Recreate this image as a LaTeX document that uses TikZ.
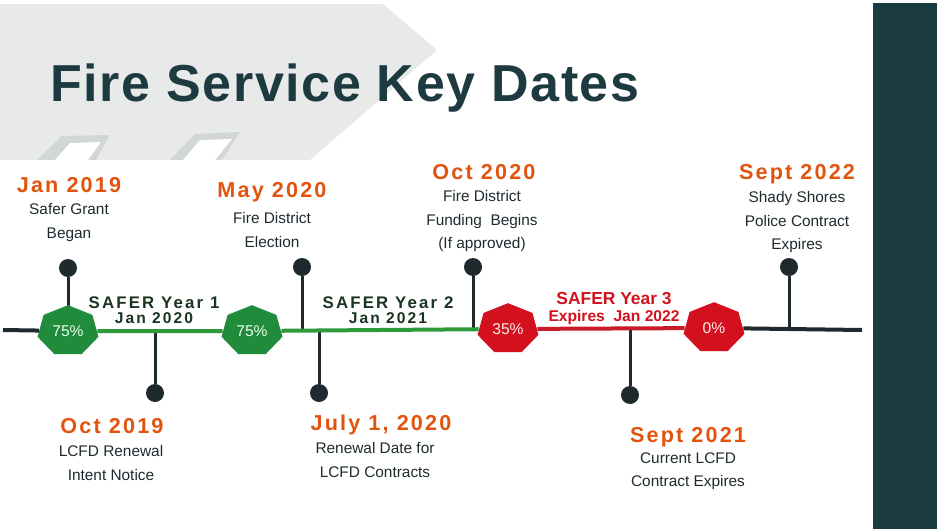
\documentclass[tikz,border=0pt]{standalone}
\usepackage{fontspec}
\setmainfont{Liberation Sans}
\newfontfamily\titlefont{Liberation Sans}[LetterSpace=3]
\newfontfamily\datefont{Liberation Sans}[LetterSpace=10]
\newfontfamily\yearfont{Liberation Sans}[LetterSpace=13]
\usetikzlibrary{shapes.geometric}

\definecolor{titleteal}{HTML}{1C3A40}
\definecolor{barteal}{HTML}{193A40}
\definecolor{dateorange}{HTML}{E2540E}
\definecolor{inkdark}{HTML}{1E2A2E}
\definecolor{safergreen}{HTML}{1F8B3B}
\definecolor{linegreen}{HTML}{2F9A3C}
\definecolor{saferred}{HTML}{D3111E}
\definecolor{linered}{HTML}{C91B27}
\definecolor{yeargreen}{HTML}{1B3321}
\definecolor{panelgrey}{HTML}{E8EAEA}
\definecolor{winframe}{HTML}{D2D6D6}

\tikzset{
  pindot/.style={circle, fill=inkdark, inner sep=0pt, minimum size=9pt},
  pinstem/.style={draw=inkdark, line width=1.5pt},
  axisline/.style={line width=2pt},
  septagon/.style={regular polygon, regular polygon sides=7, minimum size=25.8pt,
    inner sep=0pt, draw=none, transform shape},
  pct/.style={inner sep=0pt, font=\fontsize{7.8}{9}\selectfont},
  datelbl/.style={anchor=base, inner sep=0pt, text=dateorange,
    font=\datefont\bfseries\fontsize{10.8}{13}\selectfont},
  notelbl/.style={anchor=north, align=center, inner sep=0pt, text=inkdark,
    font=\fontsize{7.7}{11.75}\selectfont},
  yearlbl/.style={anchor=base, inner sep=0pt, text=yeargreen,
    font=\yearfont\bfseries\fontsize{8.4}{10}\selectfont},
  yearsub/.style={yearlbl, font=\yearfont\bfseries\fontsize{7.8}{10}\selectfont},
  redlbl/.style={anchor=base, inner sep=0pt, text=saferred,
    font=\bfseries\fontsize{8.7}{10}\selectfont},
}

% heptagon marker: name, position, fill, text, text colour
\newcommand{\septagon}[5]{%
  \begin{scope}[shift={#2}, xscale=1.21]
    \node[septagon, fill=#3] (#1) at (0,0) {};
  \end{scope}
  \node[pct, text=#5] (#1txt) at (#1.center) {#4};
}

\begin{document}
\begin{tikzpicture}[x=0.5pt, y=-0.5pt]
  \useasboundingbox (0,0) rectangle (940,529);

  % slide decoration
  \fill[panelgrey] (0,4) -- (383,4) -- (437,50) -- (310,160) -- (0,160) -- cycle;
  \fill[winframe] (37,160) -- (62,136) -- (110,135) -- (96,160) -- cycle;
  \fill[white] (55,160) -- (70,143) -- (101,142) -- (88,160) -- cycle;
  \fill[winframe] (170,160) -- (195,134) -- (240,132) -- (222,160) -- cycle;
  \fill[white] (183,160) -- (200,140) -- (232,139) -- (215,160) -- cycle;
  \fill[barteal] (873,3) rectangle (937,529);

  \node[anchor=base, inner sep=0pt, text=titleteal,
    font=\titlefont\bfseries\fontsize{26}{30}\selectfont] (title) at (345,102)
    {Fire Service Key Dates};

  \coordinate (tlstart) at (3,330);
  \coordinate (tlend) at (862,330);

  % pins above the line
  \node[pindot] (jan19dot) at (68,268) {};
  \node[pindot] (may20dot) at (302,267) {};
  \node[pindot] (oct20dot) at (473,267) {};
  \node[pindot] (sep22dot) at (789,267) {};
  % pins below the line
  \node[pindot] (oct19dot) at (155,393) {};
  \node[pindot] (jul20dot) at (319,393) {};
  \node[pindot] (sep21dot) at (630,395) {};

  \foreach \p in {jan19dot, may20dot, oct20dot, sep22dot, oct19dot, jul20dot, sep21dot}
    \draw[pinstem] (\p) -- (\p |- tlstart);

  % grant markers
  \septagon{yrone}{(68,331)}{safergreen}{75\%}{green!8}
  \septagon{yrtwo}{(252,331)}{safergreen}{75\%}{green!8}
  \septagon{yrthree}{(508,329)}{saferred}{35\%}{red!8}
  \septagon{yrend}{(714,328)}{saferred}{0\%}{red!8}

  \draw[axisline, draw=inkdark] (tlstart) -- (yrone);
  \draw[axisline, draw=linegreen] (yrone) -- (yrtwo) -- (yrthree);
  \draw[axisline, draw=linered] (yrthree) -- (yrend);
  \draw[axisline, draw=inkdark] (yrend) -- (tlend);

  % grant periods
  \node[yearlbl] (yearone) at (154,308) {SAFER Year 1};
  \node[yearsub] (yearonedate) at (154,323) {Jan 2020};
  \node[yearlbl] (yeartwo) at (388,308) {SAFER Year 2};
  \node[yearsub] (yeartwodate) at (388,323) {Jan 2021};
  \node[redlbl] (yearthree) at (614,304) {SAFER Year 3};
  \node[redlbl, font=\bfseries\fontsize{7.8}{10}\selectfont] (yearthreedate)
    at (614,321) {Expires~ Jan 2022};

  % dates and notes
  \node[datelbl] (jan19) at (69,192) {Jan 2019};
  \node[notelbl] (jan19note) at (69,203) {Safer Grant\\Began};
  \node[datelbl] (may20) at (272,198) {May 2020};
  \node[notelbl] (may20note) at (272,212) {Fire District\\Election};
  \node[datelbl] (oct20) at (484,179) {Oct 2020};
  \node[notelbl] (oct20note) at (482,190) {Fire District\\Funding~ Begins\\(If approved)};
  \node[datelbl] (sep22) at (797,179) {Sept 2022};
  \node[notelbl] (sep22note) at (797,191) {Shady Shores\\Police Contract\\Expires};
  \node[datelbl] (oct19) at (112,433) {Oct 2019};
  \node[notelbl] (oct19note) at (111,445) {LCFD Renewal\\Intent Notice};
  \node[datelbl] (jul20) at (381,430) {July 1, 2020};
  \node[notelbl] (jul20note) at (375,442) {Renewal Date for\\LCFD Contracts};
  \node[datelbl] (sep21) at (688,442) {Sept 2021};
  \node[notelbl] (sep21note) at (688,452) {Current LCFD\\Contract Expires};
\end{tikzpicture}
\end{document}
